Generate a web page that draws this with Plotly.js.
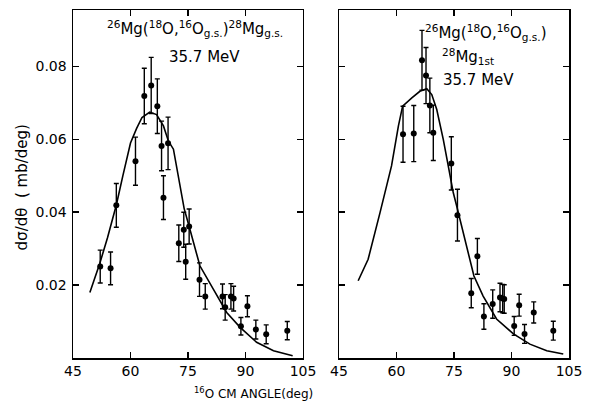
<!DOCTYPE html>
<html>
<head>
<meta charset="utf-8">
<script src="https://cdn.plot.ly/plotly-3.0.1.min.js"></script>
<style>html,body{margin:0;padding:0;background:#fff;}#chart{width:593px;height:411px;}</style>
</head>
<body>
<div id="chart"></div>
<script>
// Left panel: 26Mg(18O,16O g.s.)28Mg g.s.
const leftAngle = [52.1, 54.8, 56.3, 61.3, 63.6, 65.4, 67.0, 68.1, 68.6, 69.8, 72.6, 73.9, 74.4, 75.3, 78.0, 79.5, 84.0, 84.7, 86.2, 86.9, 88.8, 90.5, 92.7, 95.4, 100.9];
const leftValue = [0.0251, 0.0246, 0.0419, 0.054, 0.0719, 0.0748, 0.0691, 0.0582, 0.044, 0.0589, 0.0315, 0.0352, 0.0264, 0.0361, 0.0215, 0.0169, 0.0169, 0.0139, 0.0169, 0.0163, 0.0087, 0.0142, 0.0078, 0.0065, 0.0075];
const leftError = [0.0045, 0.0045, 0.006, 0.0066, 0.0076, 0.0077, 0.0075, 0.0068, 0.006, 0.0072, 0.005, 0.0048, 0.0048, 0.0048, 0.0046, 0.0035, 0.0034, 0.0035, 0.0035, 0.0034, 0.0024, 0.0029, 0.0026, 0.0026, 0.0025];
const leftCurveAngle = [49.4, 52.0, 54.0, 56.3, 58.0, 60.0, 61.6, 63.0, 65.0, 66.8, 68.6, 69.9, 71.2, 72.5, 74.0, 75.3, 78.1, 81.6, 85.1, 88.6, 92.9, 97.3, 102.3];
const leftCurveValue = [0.018, 0.026, 0.033, 0.042, 0.050, 0.059, 0.063, 0.066, 0.0675, 0.0668, 0.0637, 0.0595, 0.0573, 0.050, 0.041, 0.0361, 0.0253, 0.0189, 0.0125, 0.0084, 0.0043, 0.002, 0.0006];

// Right panel: 26Mg(18O,16O g.s.)28Mg 1st
const rightAngle = [61.7, 64.5, 66.65, 67.7, 68.7, 69.6, 74.3, 75.9, 79.5, 81.1, 82.8, 85.1, 87.0, 87.7, 88.1, 90.7, 92.0, 93.4, 95.8, 100.9];
const rightValue = [0.0614, 0.0616, 0.0817, 0.0775, 0.0693, 0.0618, 0.0534, 0.0392, 0.0178, 0.0279, 0.0114, 0.0148, 0.0166, 0.0163, 0.0162, 0.0088, 0.0145, 0.0066, 0.0125, 0.0075];
const rightError = [0.0077, 0.0077, 0.0082, 0.0077, 0.0075, 0.0076, 0.0073, 0.0071, 0.004, 0.0049, 0.0035, 0.0039, 0.0039, 0.0039, 0.0039, 0.0026, 0.003, 0.0026, 0.0029, 0.0026];
const rightCurveAngle = [50.0, 52.6, 55.7, 56.6, 58.7, 60.5, 61.6, 64.0, 66.1, 67.9, 69.2, 70.5, 72.2, 73.5, 74.8, 75.7, 78.3, 80.2, 82.6, 86.1, 90.5, 94.8, 99.2, 103.5];
const rightCurveValue = [0.0212, 0.0271, 0.0399, 0.0436, 0.0527, 0.0637, 0.0691, 0.0714, 0.0732, 0.0739, 0.0723, 0.0682, 0.06, 0.0527, 0.0454, 0.0417, 0.0307, 0.0225, 0.017, 0.0107, 0.0066, 0.0038, 0.002, 0.0011];

const xTicks = [45, 60, 75, 90, 105];
const yTicks = [0.02, 0.04, 0.06, 0.08];
const yTickLabels = ['0.02', '0.04', '0.06', '0.08'];

const FONT = 'DejaVu Sans, Arial, sans-serif';
const curveLine = {color: '#000', width: 1.6};
const marker = {color: '#000', size: 6};
function errBar(arr) { return {type: 'data', array: arr, visible: true, color: '#000', thickness: 1.4, width: 2.5}; }

const traces = [
  {x: leftCurveAngle, y: leftCurveValue, mode: 'lines', line: curveLine, xaxis: 'x', yaxis: 'y', hoverinfo: 'skip'},
  {x: leftAngle, y: leftValue, mode: 'markers', marker: marker, error_y: errBar(leftError), xaxis: 'x', yaxis: 'y'},
  {x: rightCurveAngle, y: rightCurveValue, mode: 'lines', line: curveLine, xaxis: 'x2', yaxis: 'y2', hoverinfo: 'skip'},
  {x: rightAngle, y: rightValue, mode: 'markers', marker: marker, error_y: errBar(rightError), xaxis: 'x2', yaxis: 'y2'}
];

const xCommon = {range: [45, 105], tickvals: xTicks, ticktext: xTicks.map(String), ticks: 'inside', ticklen: 6, tickwidth: 1.5, tickcolor: '#000',
  showline: true, linecolor: '#000', linewidth: 1.5, mirror: 'allticks', showgrid: false, zeroline: false,
  tickfont: {family: FONT, size: 14, color: '#000'}};
const yCommon = {range: [0, 0.0955], tickvals: yTicks, ticktext: yTickLabels, ticks: 'inside', ticklen: 6, tickwidth: 1.5, tickcolor: '#000',
  showline: true, linecolor: '#000', linewidth: 1.5, mirror: 'allticks', showgrid: false, zeroline: false,
  tickfont: {family: FONT, size: 14, color: '#000'}};

const layout = {
  width: 593, height: 411,
  margin: {l: 73, r: 24, t: 10, b: 53},
  paper_bgcolor: '#fff', plot_bgcolor: '#fff',
  showlegend: false,
  font: {family: FONT, color: '#000'},
  xaxis: Object.assign({}, xCommon, {domain: [0, 0.4637], anchor: 'y'}),
  xaxis2: Object.assign({}, xCommon, {domain: [0.5363, 1], anchor: 'y2'}),
  yaxis: Object.assign({}, yCommon, {anchor: 'x', ticklabelstandoff: 2}),
  yaxis2: Object.assign({}, yCommon, {anchor: 'x2', showticklabels: false}),
  annotations: [
    {xref: 'x', yref: 'y', x: 76.8, y: 0.0905, text: '<sup>26</sup>Mg(<sup>18</sup>O,<sup>16</sup>O<sub>g.s.</sub>)<sup>28</sup>Mg<sub>g.s.</sub>', showarrow: false, font: {family: FONT, size: 15, color: '#000'}},
    {xref: 'x', yref: 'y', x: 79.2, y: 0.0827, text: '35.7 MeV', showarrow: false, font: {family: FONT, size: 15, color: '#000'}},
    {xref: 'x2', yref: 'y2', x: 66.9, y: 0.0893, xanchor: 'left', text: '<sup>26</sup>Mg(<sup>18</sup>O,<sup>16</sup>O<sub>g.s.</sub>)', showarrow: false, font: {family: FONT, size: 15, color: '#000'}},
    {xref: 'x2', yref: 'y2', x: 71.3, y: 0.0828, xanchor: 'left', text: '<sup>28</sup>Mg<sub>1st</sub>', showarrow: false, font: {family: FONT, size: 15, color: '#000'}},
    {xref: 'x2', yref: 'y2', x: 71.6, y: 0.0762, xanchor: 'left', text: '35.7 MeV', showarrow: false, font: {family: FONT, size: 15, color: '#000'}},
    {xref: 'paper', yref: 'paper', x: 0.363, y: -0.10, yanchor: 'middle', text: '<sup>16</sup>O CM ANGLE(deg)', showarrow: false, font: {family: FONT, size: 12, color: '#000'}},
    {xref: 'paper', yref: 'paper', x: -0.101, y: 0.49, xanchor: 'center', yanchor: 'middle', text: 'd\u03c3/d\u03b8  ( mb/deg)', textangle: -90, showarrow: false, font: {family: FONT, size: 15, color: '#000'}}
  ]
};

Plotly.newPlot('chart', traces, layout, {staticPlot: true, displayModeBar: false});
</script>
</body>
</html>
